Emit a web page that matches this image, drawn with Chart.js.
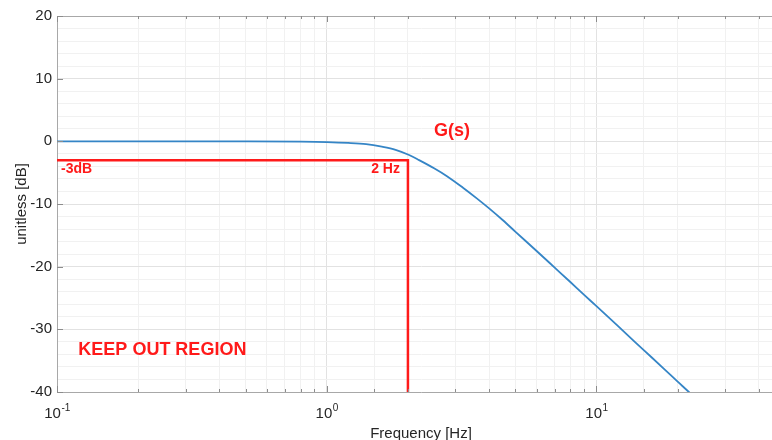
<!DOCTYPE html>
<html lang="en">
<head>
  <meta charset="UTF-8" />
  <title>G(s) magnitude</title>
  <script src="https://cdn.jsdelivr.net/npm/chart.js"></script>
  <style>
    body { margin: 0; background: #fff; }
    .wrap { width: 772px; height: 440px; overflow: hidden; }
    #bode { display: block; }
  </style>
</head>
<body>
  <div class="wrap"><canvas id="bode" width="800" height="440"></canvas></div>
  <script>
    // magnitude of G(s)
    const freqHz = [0.1, 0.2, 0.5, 0.8, 1.0, 1.2, 1.4, 1.6, 1.8, 2.0, 2.2, 2.5, 2.8, 3.2, 3.6, 4.0, 4.5, 5, 6, 7, 8, 9, 10, 12, 14, 16, 18, 20, 22, 23];
    const gainDb = [0, 0, -0.01, -0.05, -0.12, -0.25, -0.45, -0.85, -1.35, -2.1, -3.0, -4.3, -5.6, -7.4, -9.1, -10.7, -12.6, -14.4, -17.5, -20.15, -22.45, -24.5, -26.3, -29.45, -32.15, -34.45, -36.5, -38.35, -40.0, -40.8];

    // keep-out boundary (-3 dB up to 2 Hz)
    const keepOutHz = [0.1, 2, 2];
    const keepOutDb = [-3, -3, -40];

    const xDecades = [0.1, 1, 10];
    const xExponents = ['-1', '0', '1'];

    const notes = [
      { text: '-3dB', x: 0.1, y: -3, size: 14, align: 'left', dx: 4, dy: 9 },
      { text: '2 Hz', x: 2, y: -3, size: 14, align: 'right', dx: -8, dy: 9 },
      { text: 'G(s)', x: 2.5, y: 1.6, size: 18, align: 'left', dx: 0, dy: 0 },
      { text: 'KEEP OUT REGION', x: 0.12, y: -33.3, size: 18, align: 'left', dx: 0, dy: 0 }
    ];

    const FONT = '"Liberation Sans", Arial, sans-serif';
    const AXIS = '#a8a8a8';
    const TXT = '#262626';

    const matlabAxes = {
      id: 'matlabAxes',
      afterDraw(chart) {
        const { ctx, chartArea: a, scales: { x, y } } = chart;
        ctx.save();
        // box: top and right edges
        ctx.strokeStyle = AXIS;
        ctx.lineWidth = 1;
        ctx.beginPath();
        ctx.moveTo(a.left, a.top + 0.5);
        ctx.lineTo(a.right, a.top + 0.5);
        ctx.moveTo(a.right - 0.5, a.top);
        ctx.lineTo(a.right - 0.5, a.bottom);
        ctx.stroke();

        // inward ticks
        ctx.strokeStyle = '#8c8c8c';
        ctx.beginPath();
        x.ticks.forEach(t => {
          const px = Math.round(x.getPixelForValue(t.value)) + 0.5;
          const len = xDecades.includes(t.value) ? 6 : 3;
          ctx.moveTo(px, a.bottom); ctx.lineTo(px, a.bottom - len);
          ctx.moveTo(px, a.top); ctx.lineTo(px, a.top + len);
        });
        y.ticks.forEach(t => {
          if (t.value % 10 !== 0) return;
          const py = Math.round(y.getPixelForValue(t.value)) + 0.5;
          ctx.moveTo(a.left, py); ctx.lineTo(a.left + 6, py);
        });
        ctx.stroke();

        // x tick labels with exponents
        ctx.fillStyle = TXT;
        ctx.textBaseline = 'alphabetic';
        xDecades.forEach((v, i) => {
          const px = x.getPixelForValue(v);
          ctx.font = '15px ' + FONT;
          const w1 = ctx.measureText('10').width;
          ctx.font = '10px ' + FONT;
          const w2 = ctx.measureText(xExponents[i]).width;
          const start = px - (w1 + w2) / 2;
          ctx.font = '15px ' + FONT;
          ctx.textAlign = 'left';
          ctx.fillText('10', start, a.bottom + 26);
          ctx.font = '10px ' + FONT;
          ctx.fillText(xExponents[i], start + w1 + 0.5, a.bottom + 19);
        });

        // axis titles
        ctx.font = '15px ' + FONT;
        ctx.textAlign = 'center';
        ctx.fillText('Frequency [Hz]', (a.left + a.right) / 2, a.bottom + 46);
        ctx.save();
        ctx.translate(26, (a.top + a.bottom) / 2);
        ctx.rotate(-Math.PI / 2);
        ctx.fillText('unitless [dB]', 0, 0);
        ctx.restore();

        // red annotations
        ctx.fillStyle = '#ff1a1a';
        ctx.textBaseline = 'middle';
        notes.forEach(n => {
          ctx.font = 'bold ' + n.size + 'px ' + FONT;
          ctx.textAlign = n.align;
          ctx.fillText(n.text, x.getPixelForValue(n.x) + n.dx, y.getPixelForValue(n.y) + n.dy);
        });
        ctx.restore();
      }
    };

    new Chart(document.getElementById('bode'), {
      type: 'line',
      data: {
        datasets: [
          {
            label: 'G(s)',
            data: freqHz.map((f, i) => ({ x: f, y: gainDb[i] })),
            borderColor: '#3585c6',
            borderWidth: 1.8,
            pointRadius: 0,
            cubicInterpolationMode: 'monotone',
            fill: false
          },
          {
            label: 'keep out',
            data: keepOutHz.map((f, i) => ({ x: f, y: keepOutDb[i] })),
            borderColor: '#ff1a1a',
            borderWidth: 2.5,
            pointRadius: 0,
            tension: 0,
            fill: false
          }
        ]
      },
      options: {
        responsive: false,
        animation: false,
        layout: { padding: { top: 16, right: 15, left: 0, bottom: 0 } },
        plugins: { legend: { display: false }, tooltip: { enabled: false } },
        scales: {
          x: {
            type: 'logarithmic',
            min: 0.1,
            max: 50,
            afterFit: s => { s.height = 48; },
            border: { color: AXIS, width: 1 },
            grid: {
              drawTicks: false,
              color: c => (c.tick && xDecades.includes(c.tick.value)) ? '#e2e2e2' : '#f1f1f1'
            },
            ticks: { autoSkip: false, callback: () => '', font: { size: 1 } }
          },
          y: {
            type: 'linear',
            min: -40,
            max: 20,
            afterFit: s => { s.width = 57; },
            border: { color: AXIS, width: 1 },
            grid: {
              drawTicks: false,
              color: c => (c.tick && c.tick.value % 10 === 0) ? '#e2e2e2' : '#f1f1f1'
            },
            ticks: {
              stepSize: 2,
              autoSkip: false,
              padding: 5,
              color: TXT,
              font: { family: FONT, size: 15 },
              callback: v => (v % 10 === 0 ? v : '')
            }
          }
        }
      },
      plugins: [matlabAxes]
    });
  </script>
</body>
</html>
